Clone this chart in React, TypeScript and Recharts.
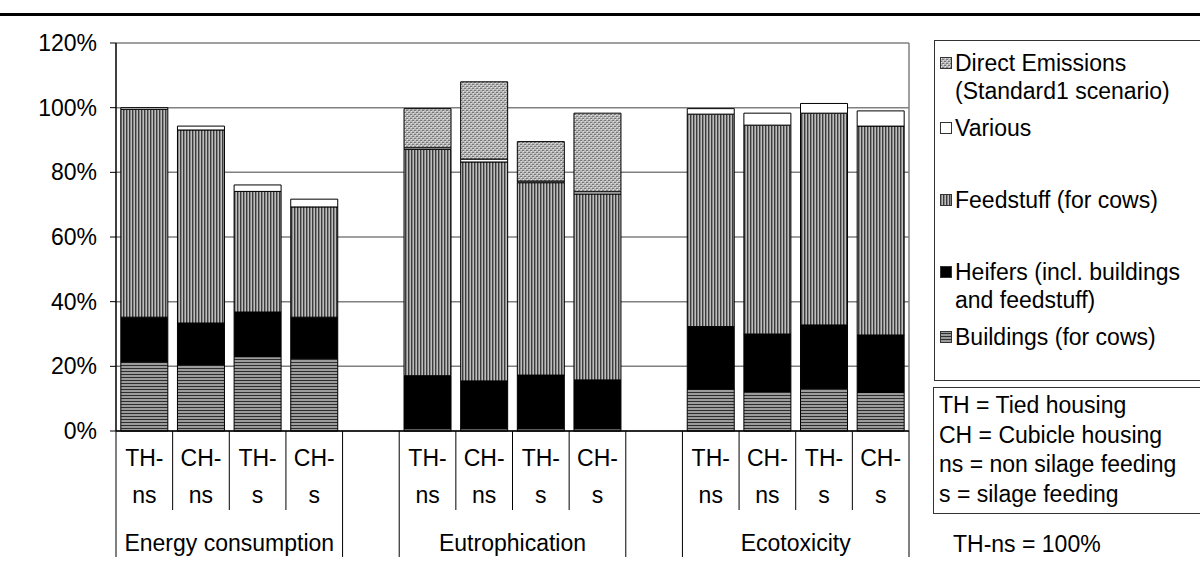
import React from "react";
import { BarChart, Bar, XAxis, YAxis, CartesianGrid } from "recharts";

const FONT = "'Liberation Sans', Arial, sans-serif";

const groups = ["Energy consumption", "Eutrophication", "Ecotoxicity"];
const scenarios = ["TH-ns", "CH-ns", "TH-s", "CH-s"];

// values in % of TH-ns, per group in scenario order
const buildings = [21.4, 20.5, 23.0, 22.5, 0.7, 0.7, 0.7, 0.7, 13.0, 12.2, 13.2, 11.9];
const heifers = [13.8, 12.9, 13.8, 12.7, 16.4, 14.8, 16.6, 15.1, 19.3, 17.8, 19.6, 17.8];
const feedstuff = [64.3, 59.7, 37.3, 34.1, 70.0, 67.7, 59.5, 57.5, 65.7, 64.6, 65.5, 64.6];
const various = [0.5, 1.2, 2.0, 2.4, 0.5, 0.9, 0.5, 0.7, 1.7, 3.7, 3.0, 4.7];
const directEmissions = [null, null, null, null, 12.1, 23.9, 12.2, 24.3, null, null, null, null];

const yTicks = [0, 20, 40, 60, 80, 100, 120];

const series = [
  { key: "buildings", name: ["Buildings (for cows)"], fill: "url(#patBuild)" },
  { key: "heifers", name: ["Heifers (incl. buildings", "and feedstuff)"], fill: "#000000" },
  { key: "feedstuff", name: ["Feedstuff (for cows)"], fill: "url(#patFeed)" },
  { key: "various", name: ["Various"], fill: "#ffffff" },
  { key: "direct", name: ["Direct Emissions", "(Standard1 scenario)"], fill: "url(#patDirect)" },
];

const abbreviations = [
  "TH = Tied housing",
  "CH = Cubicle housing",
  "ns = non silage feeding",
  "s = silage feeding",
];

type Row = {
  id: string;
  label: string;
  group: string;
  pos: number;
  buildings?: number | null;
  heifers?: number | null;
  feedstuff?: number | null;
  various?: number | null;
  direct?: number | null;
};

const rows: Row[] = [];
groups.forEach((g, gi) => {
  if (gi > 0) rows.push({ id: `gap${gi}`, label: "", group: "", pos: -1 });
  scenarios.forEach((s, si) => {
    const i = gi * 4 + si;
    rows.push({
      id: `${gi}-${si}`,
      label: s,
      group: g,
      pos: si,
      buildings: buildings[i],
      heifers: heifers[i],
      feedstuff: feedstuff[i],
      various: various[i],
      direct: directEmissions[i],
    });
  });
});

function CategoryTick(props: any) {
  const { x, y, payload } = props;
  const row = rows[payload.index];
  if (!row || row.pos < 0) return null;
  const half = payload.offset || 28.3;
  const [a, b] = row.label.split("-");
  const short = 79;
  const full = 126;
  return (
    <g>
      <line x1={x - half} x2={x - half} y1={y} y2={y + (row.pos === 0 ? full : short)} stroke="#000" />
      {row.pos === 3 && <line x1={x + half} x2={x + half} y1={y} y2={y + full} stroke="#000" />}
      <text x={x} y={y + 27} textAnchor="middle" dominantBaseline="central" fontSize={23} fontFamily={FONT} fill="#000">
        {a + "-"}
      </text>
      <text x={x} y={y + 64} textAnchor="middle" dominantBaseline="central" fontSize={23} fontFamily={FONT} fill="#000">
        {b}
      </text>
      {row.pos === 1 && (
        <text x={x + half} y={y + 112} textAnchor="middle" dominantBaseline="central" fontSize={23} fontFamily={FONT} fill="#000">
          {row.group}
        </text>
      )}
    </g>
  );
}

function Swatch({ fill }: { fill: string }) {
  return (
    <svg width={12} height={12} style={{ position: "absolute", left: 5, top: 8 }}>
      <rect x={0.5} y={0.5} width={11} height={11} fill={fill} stroke="#333" strokeWidth={1} />
    </svg>
  );
}

const legendTops = [282, 217, 145, 73, 8];

export default function App() {
  return (
    <div style={{ position: "absolute", left: 0, top: 0, width: 1200, height: 576, background: "#fff", fontFamily: FONT }}>
      <div style={{ position: "absolute", left: 0, top: 13, width: 1200, height: 2.5, background: "#000" }} />
      <BarChart
        width={1200}
        height={576}
        data={rows}
        margin={{ top: 43, right: 291, left: 36, bottom: 0 }}
        barCategoryGap="8.5%"
      >
        <defs>
          <pattern id="patBuild" width={4} height={3} patternUnits="userSpaceOnUse">
            <rect width={4} height={3} fill="#9c9c9c" />
            <rect y={2} width={4} height={1} fill="#2e2e2e" />
          </pattern>
          <pattern id="patFeed" width={3} height={4} patternUnits="userSpaceOnUse">
            <rect width={3} height={4} fill="#888888" />
            <rect x={0} width={1} height={4} fill="#3c3c3c" />
            <rect x={2} width={1} height={4} fill="#bdbdbd" />
          </pattern>
          <pattern id="patDirect" width={4} height={4} patternUnits="userSpaceOnUse">
            <rect width={4} height={4} fill="#b8b8b8" />
            <rect x={0} y={0} width={2} height={1} fill="#787878" />
            <rect x={2} y={2} width={2} height={1} fill="#787878" />
            <rect x={1} y={1} width={1} height={1} fill="#e6e6e6" />
            <rect x={3} y={3} width={1} height={1} fill="#e6e6e6" />
          </pattern>
        </defs>
        <CartesianGrid
          stroke="#808080"
          strokeWidth={1.5}
          vertical={true}
          verticalCoordinatesGenerator={({ offset }: any) => [offset.left + offset.width]}
        />
        <XAxis
          dataKey="id"
          type="category"
          interval={0}
          height={145}
          tickSize={0}
          tickMargin={0}
          tickLine={false}
          axisLine={{ stroke: "#000", strokeWidth: 1.5 }}
          tick={<CategoryTick />}
        />
        <YAxis
          width={80}
          domain={[0, 120]}
          ticks={yTicks}
          tickFormatter={(v: number) => `${v}%`}
          tickSize={6}
          tickMargin={13}
          tickLine={{ stroke: "#000" }}
          axisLine={{ stroke: "#000", strokeWidth: 1.5 }}
          tick={{ fontSize: 23, fill: "#000", fontFamily: FONT }}
        />
        {series.map((s) => (
          <Bar
            key={s.key}
            dataKey={s.key}
            stackId="a"
            fill={s.fill}
            stroke="#000"
            strokeWidth={1}
            isAnimationActive={false}
          />
        ))}
      </BarChart>

      <div
        style={{
          position: "absolute",
          left: 934,
          top: 40,
          width: 266,
          height: 341,
          border: "1.5px solid #333",
          boxSizing: "border-box",
          borderRight: "none",
        }}
      >
        {series.map((s, i) => (
          <div key={s.key} style={{ position: "absolute", left: 0, top: legendTops[i] }}>
            <Swatch fill={s.fill} />
            <div style={{ marginLeft: 20, fontSize: 23, lineHeight: "28px", whiteSpace: "nowrap", color: "#000" }}>
              {s.name.map((n) => (
                <div key={n}>{n}</div>
              ))}
            </div>
          </div>
        ))}
      </div>

      <div
        style={{
          position: "absolute",
          left: 933,
          top: 387,
          width: 267,
          height: 127,
          border: "1.5px solid #333",
          borderRight: "none",
          boxSizing: "border-box",
          padding: "3px 0 0 5px",
          fontSize: 23,
          lineHeight: "29.5px",
          color: "#000",
          whiteSpace: "nowrap",
        }}
      >
        {abbreviations.map((t) => (
          <div key={t}>{t}</div>
        ))}
      </div>

      <div style={{ position: "absolute", left: 953, top: 530, fontSize: 23, lineHeight: "28px", color: "#000" }}>
        TH-ns = 100%
      </div>
    </div>
  );
}
